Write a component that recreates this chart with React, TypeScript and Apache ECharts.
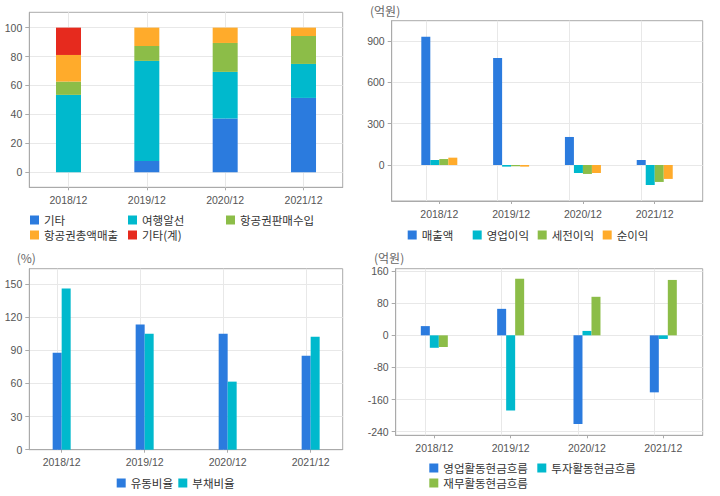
import React, { useEffect, useRef } from "react";
import * as echarts from "echarts";

const categories = ["2018/12", "2019/12", "2020/12", "2021/12"];
const catIdx = [0, 1, 2, 3];

// Top-left: sales composition (%)
const compEtc = [0, 7.8, 37.1, 51.4];
const compTravel = [53.5, 69.2, 32.3, 23.5];
const compTicketComm = [9.2, 10.3, 20.0, 19.3];
const compTicketGross = [18.4, 12.7, 10.6, 5.8];
const compEtcTotal = [18.9, 0, 0, 0];
const tlTicks = [0, 20, 40, 60, 80, 100];

// Top-right: income (억원)
const revenue = [930, 775, 203, 36];
const opIncome = [36, -12, -58, -145];
const preTaxIncome = [43, -10, -65, -123];
const netIncome = [53, -12, -58, -101];
const trTicks = [0, 300, 600, 900];

// Bottom-left: ratios (%)
const currentRatio = [87.8, 113.2, 105, 85.1];
const debtRatio = [145.8, 105, 61.6, 102.3];
const blTicks = [0, 30, 60, 90, 120, 150];

// Bottom-right: cash flows (억원)
const opCashFlow = [23, 66, -221, -142];
const invCashFlow = [-31, -187, 11, -9];
const finCashFlow = [-29, 141, 96, 138];
const brTicks = [-240, -160, -80, 0, 80, 160];

const BLUE = "#2b7bde";
const CYAN = "#00b9cd";
const GREEN = "#8cbd48";
const ORANGE = "#ffab2b";
const RED = "#e62a1e";
const GRID_LINE = "#e8e8e8";

const NUM_FONT = "'Liberation Sans Narrow', 'Liberation Sans', Arial, sans-serif";
const KR_FONT = "'Noto Sans CJK KR', sans-serif";

const toPts = (arr: number[]) => arr.map((v, i) => [i, v]);

export default function App() {
  const ref = useRef<HTMLDivElement>(null);
  useEffect(() => {
    if (!ref.current) return;
    const chart = echarts.init(ref.current, null, { renderer: "svg" });

    const grids = [
      { left: 29.3, top: 12.3, width: 313.4, height: 175 },
      { left: 391.7, top: 20.7, width: 311, height: 180.3 },
      { left: 29.3, top: 268.7, width: 313.4, height: 181 },
      { left: 395.7, top: 268.7, width: 307, height: 166.6 },
    ].map((g) => ({
      ...g,
      show: true,
      borderColor: "#aaaaaa",
      borderWidth: 1,
      backgroundColor: "transparent",
      containLabel: false,
    }));

    const labelStyle = {
      color: "#555555",
      fontFamily: NUM_FONT,
      fontSize: 10.5,
      margin: 7,
    };
    const lineCol = { color: "#aaaaaa" };

    const xRanges = [
      [-0.663, 3.668],
      [-0.39, 3.386],
      [-0.506, 3.516],
    ];
    const xAxes: any[] = [
      {
        type: "category",
        gridIndex: 0,
        data: categories,
        boundaryGap: true,
        axisLine: { show: true, onZero: false, lineStyle: lineCol },
        axisTick: { show: true, length: 3, alignWithLabel: true, lineStyle: lineCol },
        axisLabel: { ...labelStyle },
        splitLine: { show: false },
      },
      ...xRanges.map((r, i) => ({
        type: "value",
        gridIndex: i + 1,
        min: r[0],
        max: r[1],
        axisLine: { show: true, onZero: false, lineStyle: lineCol },
        axisTick: { show: true, length: 3, customValues: catIdx, lineStyle: lineCol },
        axisLabel: {
          ...labelStyle,
          customValues: catIdx,
          formatter: (v: number) => categories[Math.round(v)] ?? "",
        },
        splitLine: { show: false },
      })),
    ];

    const yDefs = [
      { min: -10.4, max: 110.6, ticks: tlTicks },
      { min: -261, max: 1045.5, ticks: trTicks },
      { min: 0, max: 163.8, ticks: blTicks },
      { min: -249, max: 166, ticks: brTicks },
    ];
    const yAxes = yDefs.map((d, i) => ({
      type: "value",
      gridIndex: i,
      min: d.min,
      max: d.max,
      axisLine: { show: true, onZero: false, lineStyle: lineCol },
      axisTick: { show: true, length: 4, customValues: d.ticks, lineStyle: lineCol },
      axisLabel: { ...labelStyle, customValues: d.ticks },
      splitLine: { show: true, lineStyle: { color: GRID_LINE } },
    }));

    const vLines = (isCategory: boolean) => ({
      symbol: "none",
      silent: true,
      z: 1,
      label: { show: false },
      lineStyle: { color: GRID_LINE, type: "solid", width: 1 },
      data: (isCategory ? categories : catIdx).map((c) => ({ xAxis: c })),
    });

    const bar = (
      name: string,
      data: any[],
      color: string,
      gi: number,
      width: number,
      stack?: string,
      withLines?: boolean
    ) => ({
      type: "bar",
      name,
      xAxisIndex: gi,
      yAxisIndex: gi,
      data,
      barWidth: width,
      barGap: "0%",
      stack,
      itemStyle: { color },
      emphasis: { disabled: true },
      ...(withLines ? { markLine: vLines(gi === 0) } : {}),
    });

    const legendBase = {
      orient: "horizontal",
      padding: 0,
      itemGap: 0,
      itemWidth: 9,
      itemHeight: 9,
      icon: "rect",
      selectedMode: false,
      textStyle: { fontFamily: KR_FONT, fontSize: 11.5, color: "#333333", lineHeight: 15 },
    };

    const option = {
      animation: false,
      grid: grids,
      xAxis: xAxes,
      yAxis: yAxes,
      legend: [
        {
          ...legendBase,
          left: 30,
          top: 212.5,
          width: 300,
          data: ["기타", "여행알선", "항공권판매수입", "항공권총액매출", "기타(계)"],
          textStyle: { ...legendBase.textStyle, width: 84 },
        },
        {
          ...legendBase,
          left: 407.7,
          top: 227.5,
          width: 300,
          data: ["매출액", "영업이익", "세전이익", "순이익"],
          textStyle: { ...legendBase.textStyle, width: 51 },
        },
        {
          ...legendBase,
          left: 116.7,
          top: 475.5,
          width: 200,
          data: ["유동비율", "부채비율"],
          textStyle: { ...legendBase.textStyle, width: 47.6 },
        },
        {
          ...legendBase,
          left: 429.3,
          top: 460.5,
          width: 220,
          data: ["영업활동현금흐름", "투자활동현금흐름", "재무활동현금흐름"],
          textStyle: { ...legendBase.textStyle, width: 94 },
        },
      ],
      graphic: [
        {
          type: "text",
          left: 370,
          top: 4,
          style: { text: "(억원)", fill: "#666666", font: `12px ${KR_FONT}` },
        },
        {
          type: "text",
          left: 16.7,
          top: 251,
          style: { text: "(%)", fill: "#666666", font: `12px ${KR_FONT}` },
        },
        {
          type: "text",
          left: 374,
          top: 251,
          style: { text: "(억원)", fill: "#666666", font: `12px ${KR_FONT}` },
        },
      ],
      series: [
        bar("기타", compEtc, BLUE, 0, 25, "comp", true),
        bar("여행알선", compTravel, CYAN, 0, 25, "comp"),
        bar("항공권판매수입", compTicketComm, GREEN, 0, 25, "comp"),
        bar("항공권총액매출", compTicketGross, ORANGE, 0, 25, "comp"),
        bar("기타(계)", compEtcTotal, RED, 0, 25, "comp"),
        bar("매출액", toPts(revenue), BLUE, 1, 9, undefined, true),
        bar("영업이익", toPts(opIncome), CYAN, 1, 9),
        bar("세전이익", toPts(preTaxIncome), GREEN, 1, 9),
        bar("순이익", toPts(netIncome), ORANGE, 1, 9),
        bar("유동비율", toPts(currentRatio), BLUE, 2, 9, undefined, true),
        bar("부채비율", toPts(debtRatio), CYAN, 2, 9),
        bar("영업활동현금흐름", toPts(opCashFlow), BLUE, 3, 9, undefined, true),
        bar("투자활동현금흐름", toPts(invCashFlow), CYAN, 3, 9),
        bar("재무활동현금흐름", toPts(finCashFlow), GREEN, 3, 9),
      ],
    };

    chart.setOption(option as any);
    return () => {
      chart.dispose();
    };
  }, []);

  return (
    <div
      ref={ref}
      style={{ position: "fixed", left: 0, top: 0, width: 720, height: 496, background: "#ffffff" }}
    />
  );
}
